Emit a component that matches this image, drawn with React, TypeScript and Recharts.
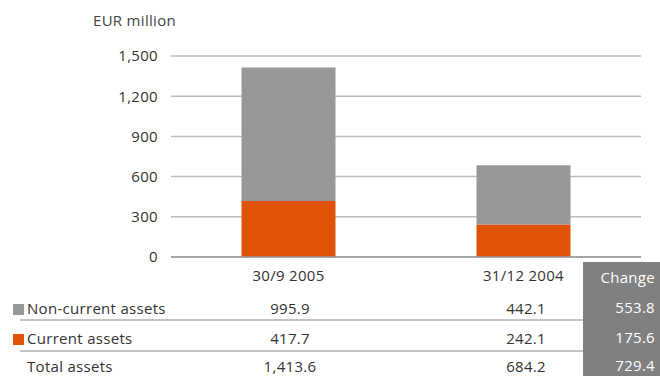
import React from 'react';
import { BarChart, Bar, XAxis, YAxis, CartesianGrid } from 'recharts';

const categories = ['30/9 2005', '31/12 2004'];
const nonCurrentAssets = [995.9, 442.1];
const currentAssets = [417.7, 242.1];
const totalAssets = [1413.6, 684.2];
const changeValues = [553.8, 175.6, 729.4];
const yTicks = [0, 300, 600, 900, 1200, 1500];

const GREY = '#989898';
const ORANGE = '#e05206';
const FONT = '"Open Sans", Lato, sans-serif';
const FS = 15;

const chartData = categories.map((name, i) => ({
  name,
  current: currentAssets[i],
  nonCurrent: nonCurrentAssets[i],
}));

const fmt = (v: number, digits = 0) =>
  v.toLocaleString('en-US', { minimumFractionDigits: digits, maximumFractionDigits: digits });

const rows = [
  { label: 'Non-current assets', color: GREY, values: nonCurrentAssets, change: changeValues[0] },
  { label: 'Current assets', color: ORANGE, values: currentAssets, change: changeValues[1] },
  { label: 'Total assets', color: null, values: totalAssets, change: changeValues[2] },
];

// table columns line up with the category centers of the plot
const colCenters = [290, 526];
const rowTops = [298, 328, 356];

export default function App() {
  return (
    <div style={{ position: 'absolute', left: 0, top: 0, width: 660, height: 376, background: '#fff', fontFamily: FONT, color: '#333', overflow: 'hidden', letterSpacing: 0.3 }}>
      <div style={{ position: 'absolute', left: 93, top: 10, fontSize: FS, color: '#444' }}>EUR million</div>
      <BarChart
        width={660}
        height={376}
        data={chartData}
        margin={{ top: 56, right: 19, bottom: 89, left: 0 }}
        barCategoryGap="30%"
      >
        <CartesianGrid vertical={false} stroke="#bcbcbc" strokeWidth={1.5} />
        <XAxis
          dataKey="name"
          height={30}
          tickLine={false}
          axisLine={{ stroke: '#999', strokeWidth: 1.5 }}
          tickMargin={7}
          tick={{ fill: '#333', fontSize: FS, fontFamily: FONT }}
        />
        <YAxis
          width={171}
          domain={[0, 1500]}
          ticks={yTicks}
          tickFormatter={(v: number) => fmt(v)}
          axisLine={false}
          tickLine={false}
          tickSize={0}
          tickMargin={13}
          tick={{ fill: '#333', fontSize: FS, fontFamily: FONT }}
        />
        <Bar dataKey="current" stackId="a" fill={ORANGE} isAnimationActive={false} />
        <Bar dataKey="nonCurrent" stackId="a" fill={GREY} isAnimationActive={false} />
      </BarChart>

      {/* change column */}
      <div style={{ position: 'absolute', left: 583, top: 262, width: 77, height: 114, background: '#808080' }} />
      <div style={{ position: 'absolute', left: 583, top: 267, width: 72, textAlign: 'right', color: '#fff', fontSize: FS }}>Change</div>

      {rows.map((r, ri) => (
        <React.Fragment key={r.label}>
          {r.color && (
            <div style={{ position: 'absolute', left: 13, top: rowTops[ri] + 6, width: 11, height: 11, background: r.color }} />
          )}
          <div style={{ position: 'absolute', left: 27, top: rowTops[ri], fontSize: FS }}>{r.label}</div>
          {r.values.map((v, ci) => (
            <div
              key={ci}
              style={{ position: 'absolute', left: colCenters[ci] - 60, width: 120, top: rowTops[ri], textAlign: 'center', fontSize: FS }}
            >
              {fmt(v, 1)}
            </div>
          ))}
          <div style={{ position: 'absolute', left: 583, top: rowTops[ri] - 1, width: 72, textAlign: 'right', color: '#fff', fontSize: FS }}>
            {fmt(r.change, 1)}
          </div>
          {ri < 2 && (
            <div style={{ position: 'absolute', left: 20, top: rowTops[ri] + 21 + ri, width: 563, height: 2, background: '#c4c4c4' }} />
          )}
        </React.Fragment>
      ))}
    </div>
  );
}
